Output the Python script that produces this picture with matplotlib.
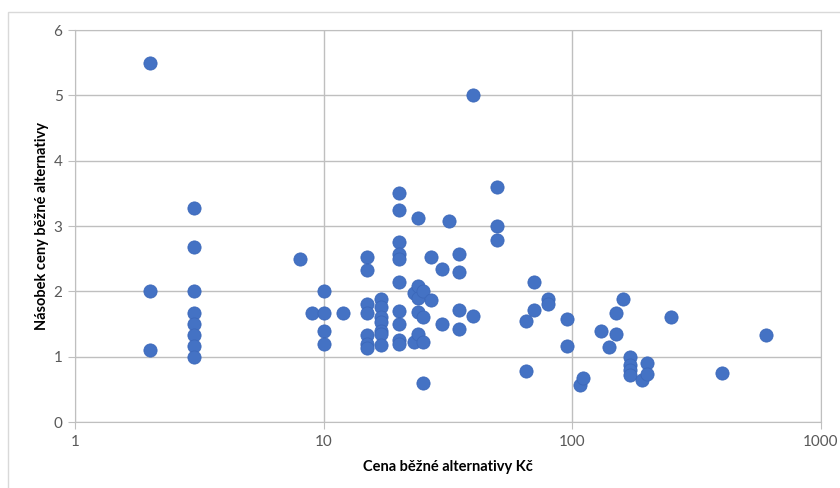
import numpy as np
import matplotlib.pyplot as plt
from matplotlib.patches import Rectangle
from matplotlib.ticker import FixedLocator, FixedFormatter, NullLocator

plt.rcParams['font.family'] = ['Lato', 'DejaVu Sans']

# price of the usual alternative (Kc) and the price multiple
cena = [2, 2, 2,
        3, 3, 3, 3, 3, 3, 3, 3,
        8, 9,
        10, 10, 10, 10,
        12,
        15, 15, 15, 15, 15, 15, 15,
        17, 17, 17, 17, 17, 17, 17,
        20, 20, 20, 20, 20, 20, 20, 20, 20, 20,
        23, 23, 24, 24, 24, 24, 24, 25, 25, 25, 25,
        27, 27, 30, 30, 32, 35, 35, 35, 35, 40, 40,
        50, 50, 50,
        65, 65, 70, 70, 80, 80, 95, 95,
        107, 110, 130, 140, 150, 150, 160,
        170, 170, 170, 170, 190, 200, 200,
        250, 400, 600]
nasobek = [5.5, 2.0, 1.1,
           3.28, 2.68, 2.0, 1.67, 1.5, 1.33, 1.17, 1.0,
           2.5, 1.67,
           2.0, 1.67, 1.4, 1.2,
           1.67,
           2.53, 2.33, 1.8, 1.67, 1.33, 1.2, 1.13,
           1.88, 1.76, 1.6, 1.53, 1.4, 1.35, 1.18,
           3.5, 3.25, 2.75, 2.57, 2.5, 2.15, 1.7, 1.5, 1.25, 1.2,
           1.97, 1.22, 3.12, 2.08, 1.9, 1.68, 1.34, 2.0, 1.6, 1.22, 0.6,
           2.52, 1.86, 2.34, 1.5, 3.08, 2.57, 2.3, 1.72, 1.43, 5.0, 1.63,
           3.6, 3.0, 2.78,
           1.55, 0.78, 2.15, 1.72, 1.88, 1.81, 1.57, 1.16,
           0.57, 0.68, 1.39, 1.15, 1.67, 1.34, 1.88,
           1.0, 0.87, 0.8, 0.72, 0.65, 0.91, 0.74,
           1.6, 0.75, 1.33]

x_ticks = [1, 10, 100, 1000]
x_labels = ['1', '10', '100', '1000']
y_ticks = [0, 1, 2, 3, 4, 5, 6]

fig = plt.figure(figsize=(8.4, 4.88), dpi=100)
ax = fig.add_axes([75 / 840, 1 - 422 / 488, 746 / 840, 392 / 488])

# outer chart border
fig.patches.append(Rectangle((8 / 840, -0.1), 1.0, 1 - 12 / 488 + 0.1,
                             transform=fig.transFigure, fill=False,
                             edgecolor='#d9d9d9', linewidth=1))

ax.scatter(cena, nasobek, s=90, color='#4472c4', edgecolors='#3c68ba',
           linewidths=0.6, zorder=3, clip_on=False)

ax.set_xscale('log')
ax.set_xlim(1, 1000)
ax.set_ylim(0, 6)
ax.xaxis.set_major_locator(FixedLocator(x_ticks))
ax.xaxis.set_major_formatter(FixedFormatter(x_labels))
ax.xaxis.set_minor_locator(NullLocator())
ax.set_yticks(y_ticks)

ax.grid(True, color='#bfbfbf', linewidth=1, zorder=0)
ax.set_axisbelow(True)
for side in ['left', 'bottom', 'right', 'top']:
    ax.spines[side].set_color('#bfbfbf')
ax.tick_params(axis='both', length=5, color='#bfbfbf', labelsize=11,
               labelcolor='#595959', pad=4)

ax.set_xlabel('Cena běžné alternativy Kč', fontsize=10.5, fontweight='bold',
              color='#000000', labelpad=8)
ax.set_ylabel('Násobek ceny běžné alternativy', fontsize=10.5,
              fontweight='bold', color='#000000', labelpad=3)

fig.savefig('out.png', dpi=100)
